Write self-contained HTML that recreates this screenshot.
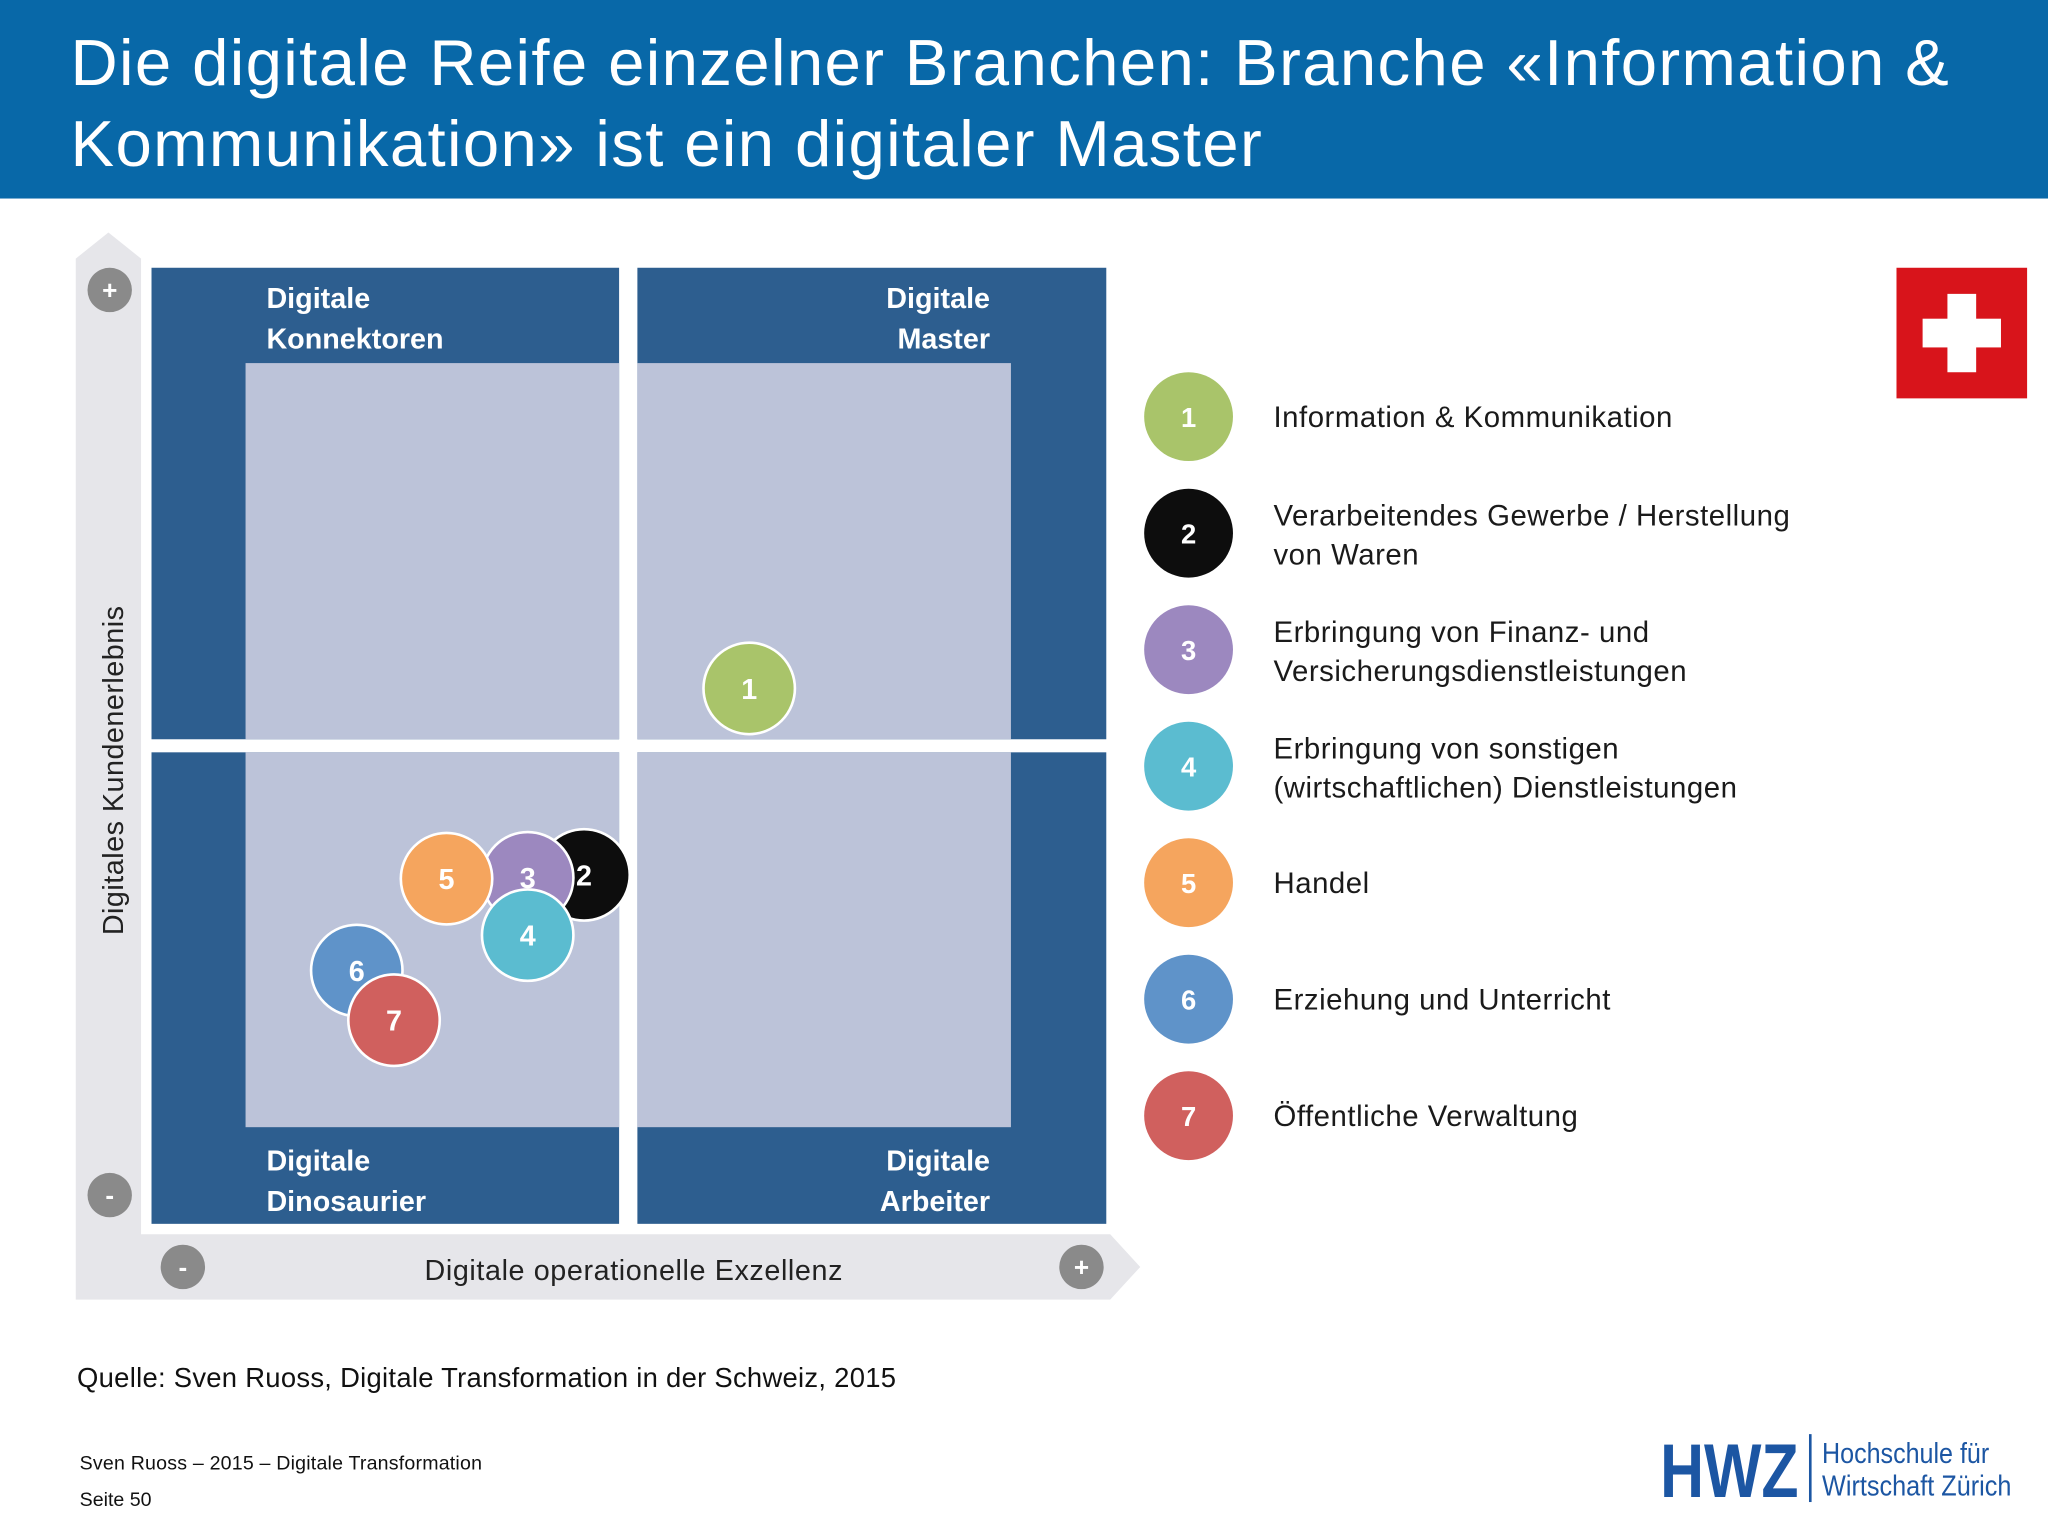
<!DOCTYPE html>
<html><head><meta charset="utf-8"><style>
html,body{margin:0;padding:0;background:#fff;}
svg{display:block;font-family:"Liberation Sans",sans-serif;}
</style></head><body>
<svg id="chart" width="2048" height="1536" viewBox="0 0 1568 1176" xmlns="http://www.w3.org/2000/svg">
<rect x="0" y="0" width="1568" height="1176" fill="#fff"/>
<g>
<rect x="0" y="0" width="1568" height="152" fill="#0868a8"/>
<text x="54" y="65" font-size="50" fill="#fff" textLength="1438" lengthAdjust="spacing">Die digitale Reife einzelner Branchen: Branche «Information &amp;</text>
<text x="54" y="127" font-size="50" fill="#fff" textLength="912" lengthAdjust="spacing">Kommunikation» ist ein digitaler Master</text>
</g>
<g>
<polygon points="58,995 58,198 83,178 108,198 108,945 850,945 873,970 850,995" fill="#e6e6ea"/>
</g>
<g>
<rect x="116" y="205" width="358" height="361" fill="#2d5e8f"/>
<rect x="488" y="205" width="359" height="361" fill="#2d5e8f"/>
<rect x="116" y="576" width="358" height="361" fill="#2d5e8f"/>
<rect x="488" y="576" width="359" height="361" fill="#2d5e8f"/>
<rect x="188" y="278" width="286" height="288" fill="#bcc3d9"/>
<rect x="488" y="278" width="286" height="288" fill="#bcc3d9"/>
<rect x="188" y="576" width="286" height="287" fill="#bcc3d9"/>
<rect x="488" y="576" width="286" height="287" fill="#bcc3d9"/>
<g font-size="22" font-weight="bold" fill="#fff">
<text x="204" y="236"><tspan x="204">Digitale</tspan><tspan x="204" dy="31">Konnektoren</tspan></text>
<text x="758" y="236" text-anchor="end"><tspan x="758">Digitale</tspan><tspan x="758" dy="31">Master</tspan></text>
<text x="204" y="896"><tspan x="204">Digitale</tspan><tspan x="204" dy="31">Dinosaurier</tspan></text>
<text x="758" y="896" text-anchor="end"><tspan x="758">Digitale</tspan><tspan x="758" dy="31">Arbeiter</tspan></text>
</g>
</g>
<g font-size="20" font-weight="bold" fill="#fff" text-anchor="middle">
<circle cx="84" cy="222" r="17" fill="#8a8a8a"/><text x="84" y="229">+</text>
<circle cx="84" cy="915" r="17" fill="#8a8a8a"/><text x="84" y="922">-</text>
<circle cx="140" cy="970" r="17" fill="#8a8a8a"/><text x="140" y="977">-</text>
<circle cx="828" cy="970" r="17" fill="#8a8a8a"/><text x="828" y="977">+</text>
</g>
<text x="0" y="0" transform="translate(94,590) rotate(-90)" text-anchor="middle" font-size="22" fill="#222" textLength="252" lengthAdjust="spacing">Digitales Kundenerlebnis</text>
<text x="485" y="980" text-anchor="middle" font-size="22" fill="#222" textLength="320" lengthAdjust="spacing">Digitale operationelle Exzellenz</text>
<g id="bubbles"></g>
<g id="legend"></g>
<g>
<rect x="1452" y="205" width="100" height="100" fill="#d8141b"/>
<rect x="1491" y="225" width="22" height="60" fill="#fff"/>
<rect x="1472" y="244" width="60" height="22" fill="#fff"/>
</g>
<text x="59" y="1062" font-size="21" fill="#111" textLength="627" lengthAdjust="spacing">Quelle: Sven Ruoss, Digitale Transformation in der Schweiz, 2015</text>
<text x="61" y="1125" font-size="15" fill="#111" textLength="308" lengthAdjust="spacing">Sven Ruoss – 2015 – Digitale Transformation</text>
<text x="61" y="1153" font-size="15" fill="#111">Seite 50</text>
<g fill="#1c56a3">
<text x="1271" y="1146" font-size="58" font-weight="bold" textLength="106" lengthAdjust="spacingAndGlyphs">HWZ</text>
<rect x="1385" y="1098" width="2" height="52"/>
<text x="1395" y="1120" font-size="22" textLength="128" lengthAdjust="spacingAndGlyphs">Hochschule für</text>
<text x="1395" y="1145" font-size="22" textLength="145" lengthAdjust="spacingAndGlyphs">Wirtschaft Zürich</text>
</g>
</svg>
<script>
const ids = ["1","2","3","5","4","6","7"];
const xVals = [6.26, 4.53, 3.94, 3.09, 3.94, 2.15, 2.54];
const yVals = [5.60, 3.65, 3.62, 3.61, 3.02, 2.65, 2.13];
const colors = {"1":"#a9c46a","2":"#0d0d0d","3":"#9c88bf","4":"#5bbcd0","5":"#f5a55e","6":"#5f93c9","7":"#d0605e"};
const legendIds = ["1","2","3","4","5","6","7"];
const legendLabels = [["Information & Kommunikation"],["Verarbeitendes Gewerbe / Herstellung","von Waren"],["Erbringung von Finanz- und","Versicherungsdienstleistungen"],["Erbringung von sonstigen","(wirtschaftlichen) Dienstleistungen"],["Handel"],["Erziehung und Unterricht"],["Öffentliche Verwaltung"]];
const NS="http://www.w3.org/2000/svg";
function sx(v){return 116 + v*73.1;}
function sy(v){return 937 - v*73.2;}
const bg=document.getElementById('bubbles');
for(let i=0;i<ids.length;i++){
  const g=document.createElementNS(NS,'g');
  
  
  const c=document.createElementNS(NS,'circle');
  c.setAttribute('cx',sx(xVals[i]));c.setAttribute('cy',sy(yVals[i]));c.setAttribute('r',35);
  c.setAttribute('fill',colors[ids[i]]);c.setAttribute('stroke','#fff');c.setAttribute('stroke-width','2');
  g.appendChild(c);
  const t=document.createElementNS(NS,'text');
  t.setAttribute('x',sx(xVals[i]));t.setAttribute('y',sy(yVals[i])+8);
  t.setAttribute('text-anchor','middle');t.setAttribute('font-size','22');t.setAttribute('font-weight','bold');t.setAttribute('fill','#fff');
  t.textContent=ids[i];g.appendChild(t);
  bg.appendChild(g);
}
const lg=document.getElementById('legend');
for(let i=0;i<legendIds.length;i++){
  const cy=319+i*89.2;
  const g=document.createElementNS(NS,'g');
  
  
  const c=document.createElementNS(NS,'circle');
  c.setAttribute('cx',910);c.setAttribute('cy',cy);c.setAttribute('r',34);c.setAttribute('fill',colors[legendIds[i]]);
  g.appendChild(c);
  const n=document.createElementNS(NS,'text');
  n.setAttribute('x',910);n.setAttribute('y',cy+8);n.setAttribute('text-anchor','middle');n.setAttribute('font-size','21');n.setAttribute('font-weight','bold');n.setAttribute('fill','#fff');
  n.textContent=legendIds[i];g.appendChild(n);
  const lines=legendLabels[i];
  const y0=lines.length===1?cy+8:cy-6;
  lines.forEach((s,k)=>{
    const t=document.createElementNS(NS,'text');
    t.setAttribute('x',975);t.setAttribute('y',y0+k*30);t.setAttribute('font-size','22.5');t.setAttribute('fill','#1a1a1a');
    t.setAttribute('letter-spacing','0.4');
    t.textContent=s;g.appendChild(t);
  });
  lg.appendChild(g);
}
</script>
</body></html>
